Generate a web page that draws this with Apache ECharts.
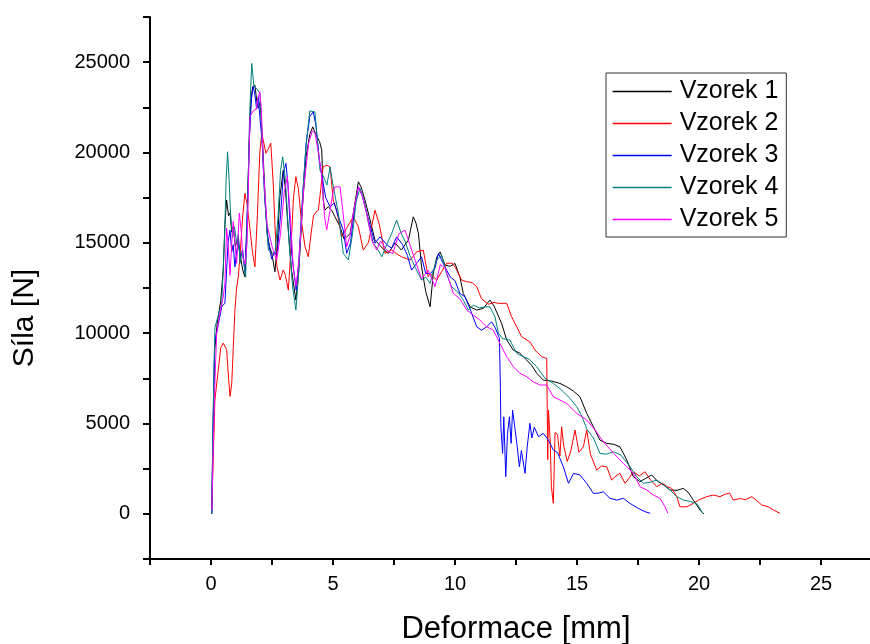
<!DOCTYPE html>
<html>
<head>
<meta charset="utf-8">
<script src="https://cdn.jsdelivr.net/npm/echarts@6/dist/echarts.min.js"></script>
<style>html,body{margin:0;padding:0;background:#fff;}#c{width:870px;height:644px;}</style>
</head>
<body>
<div id="c"></div>
<script>
var seriesNames = ['Vzorek 1', 'Vzorek 2', 'Vzorek 3', 'Vzorek 4', 'Vzorek 5'];
var xTickLabels = [0, 5, 10, 15, 20, 25];
var yTickLabels = [0, 5000, 10000, 15000, 20000, 25000];
var xTitle = 'Deformace [mm]';
var yTitle = 'Síla [N]';

var vzorek1 = [[0.03,0],[0.08,4000],[0.15,9000],[0.25,10500],[0.4,11800],[0.5,13500],[0.57,16000],[0.64,17370],[0.72,16500],[0.78,16650],[0.85,15600],[0.91,15900],[1.0,14800],[1.08,15200],[1.16,14600],[1.3,13500],[1.39,13120],[1.48,16000],[1.56,20500],[1.64,23000],[1.71,23640],[1.8,23730],[1.87,22900],[1.94,22450],[2.02,22800],[2.1,21000],[2.2,18000],[2.3,15500],[2.4,14800],[2.49,14430],[2.62,13400],[2.72,15000],[2.82,17500],[2.96,19020],[3.05,18000],[3.15,16000],[3.3,13500],[3.48,11830],[3.6,13500],[3.75,17000],[3.9,19800],[4.05,21000],[4.17,21420],[4.3,21000],[4.45,20600],[4.54,20130],[4.6,17370],[4.67,16810],[4.8,17000],[4.95,16800],[5.08,16440],[5.29,15890],[5.45,15200],[5.56,15330],[5.7,15500],[5.85,16800],[6.04,18380],[6.15,18100],[6.31,17370],[6.52,16260],[6.72,15150],[6.9,14900],[7.1,14600],[7.27,14420],[7.54,15000],[7.8,14600],[8.09,15150],[8.29,16440],[8.4,16100],[8.5,15530],[8.63,13670],[8.8,12300],[8.98,11460],[9.11,13310],[9.25,14200],[9.39,14500],[9.59,13770],[9.8,13700],[10.0,13860],[10.2,13120],[10.34,12200],[10.61,11460],[10.89,11280],[11.16,11370],[11.43,11830],[11.6,11500],[11.91,10540],[12.12,9620],[12.39,9060],[12.65,8900],[12.94,8510],[13.15,8200],[13.35,7780],[13.62,7400],[13.95,7350],[14.3,7220],[14.58,7030],[14.85,6800],[15.12,6480],[15.4,5560],[15.67,4820],[15.94,4080],[16.22,3900],[16.5,3850],[16.76,3710],[17.04,2980],[17.31,2050],[17.58,1780],[17.8,1950],[18.06,2150],[18.3,1800],[18.55,1600],[18.81,1320],[19.1,1300],[19.36,1410],[19.55,1200],[19.77,760],[20.04,210],[20.2,0]];

var vzorek2 = [[0.03,200],[0.1,3500],[0.16,6300],[0.3,8000],[0.4,9200],[0.5,9450],[0.64,9100],[0.72,7500],[0.78,6500],[0.85,7200],[0.91,9100],[0.98,11270],[1.05,12500],[1.12,13120],[1.2,14500],[1.3,16500],[1.39,17740],[1.47,17200],[1.57,16090],[1.7,14500],[1.8,13670],[1.9,16500],[2.0,20000],[2.08,21070],[2.17,20500],[2.25,19960],[2.35,20200],[2.45,20520],[2.55,18300],[2.62,16000],[2.7,13700],[2.83,12940],[2.96,13500],[3.05,13200],[3.17,12380],[3.27,14500],[3.38,17500],[3.48,18660],[3.58,18000],[3.7,16270],[3.85,14800],[3.99,14230],[4.1,15500],[4.2,16500],[4.3,16700],[4.4,16800],[4.5,18000],[4.59,19200],[4.75,19300],[4.88,19200],[5.01,17370],[5.15,16800],[5.36,15330],[5.55,15800],[5.83,16440],[6.04,15890],[6.24,14600],[6.45,15000],[6.72,16810],[6.9,16000],[7.13,14420],[7.4,14600],[7.6,14400],[7.81,14230],[8.16,14050],[8.43,14500],[8.7,14600],[8.9,13120],[8.98,13310],[9.25,12940],[9.45,13400],[9.66,13870],[9.9,13870],[10.07,13500],[10.27,12940],[10.48,12850],[10.7,12800],[10.89,12570],[11.09,11900],[11.37,11600],[11.6,11700],[11.78,11650],[12.12,11650],[12.32,10910],[12.53,10350],[12.73,9800],[13.07,9520],[13.28,9060],[13.55,8700],[13.76,8600],[13.8,3000],[13.83,5740],[13.9,4080],[13.95,1500],[14.03,580],[14.1,4500],[14.2,4400],[14.3,3200],[14.37,4820],[14.45,3800],[14.6,2900],[14.75,3500],[14.92,4640],[15.08,3410],[15.26,3710],[15.4,4640],[15.55,3300],[15.81,2420],[16.0,2650],[16.22,2600],[16.42,1870],[16.6,2100],[16.76,2240],[16.97,1690],[17.15,2000],[17.31,2330],[17.55,2100],[17.79,2330],[18.0,1900],[18.27,1500],[18.5,1700],[18.7,1500],[18.88,1410],[19.09,950],[19.22,390],[19.5,390],[19.77,580],[19.98,760],[20.31,950],[20.59,1040],[20.86,950],[21.1,1100],[21.25,1150],[21.41,760],[21.7,850],[21.9,780],[22.16,950],[22.35,750],[22.57,490],[22.84,390],[23.05,210],[23.32,30]];

var vzorek3 = [[0.03,0],[0.08,4500],[0.15,9500],[0.3,10500],[0.45,11500],[0.57,11650],[0.64,13500],[0.7,15000],[0.78,15700],[0.85,14500],[0.91,14900],[0.98,13670],[1.05,14500],[1.12,15280],[1.2,14200],[1.3,14600],[1.39,13400],[1.48,16500],[1.58,21000],[1.66,23000],[1.73,23640],[1.8,23200],[1.87,22400],[1.94,23100],[2.0,22000],[2.1,20500],[2.2,17500],[2.35,15000],[2.49,14100],[2.6,14500],[2.7,14300],[2.85,16500],[2.97,18900],[3.07,19400],[3.15,18300],[3.3,14500],[3.49,12380],[3.6,14000],[3.75,17500],[3.9,20500],[4.05,22000],[4.19,22250],[4.3,21500],[4.45,19500],[4.54,18750],[4.7,17500],[4.88,17000],[5.05,17200],[5.22,16440],[5.42,15700],[5.56,14420],[5.72,15000],[5.88,16800],[6.04,18100],[6.2,17600],[6.45,16300],[6.72,14980],[6.93,15330],[7.2,14900],[7.4,14700],[7.61,15330],[7.85,14900],[8.05,14300],[8.22,13490],[8.45,13900],[8.63,14230],[8.8,13300],[9.0,13310],[9.18,13600],[9.32,14420],[9.5,13900],[9.8,13120],[10.0,12900],[10.2,12200],[10.41,12010],[10.61,11370],[10.89,10350],[11.09,10170],[11.3,10350],[11.5,10630],[11.65,10300],[11.82,9710],[11.86,7000],[11.88,4820],[11.95,3350],[12.0,5370],[12.08,2050],[12.15,4400],[12.23,5370],[12.3,3900],[12.36,5740],[12.45,4800],[12.55,3710],[12.64,2610],[12.72,3500],[12.87,2240],[12.96,3710],[13.07,5010],[13.15,4200],[13.25,4800],[13.42,4270],[13.62,4450],[13.83,4080],[14.03,3530],[14.2,3400],[14.44,2610],[14.65,1690],[14.86,2240],[15.12,2150],[15.4,1690],[15.67,1130],[15.9,1150],[16.08,1220],[16.35,860],[16.63,760],[16.9,860],[17.17,580],[17.51,300],[17.79,120],[18.0,30]];

var vzorek4 = [[0.03,0],[0.08,5000],[0.16,10300],[0.3,11000],[0.44,11650],[0.55,15000],[0.62,18500],[0.68,20040],[0.74,18500],[0.8,16650],[0.88,15300],[0.96,15900],[1.05,15000],[1.12,15500],[1.19,13870],[1.28,14600],[1.42,13100],[1.5,17000],[1.58,22000],[1.67,24930],[1.75,23800],[1.8,23600],[1.9,23500],[2.0,23280],[2.1,20500],[2.2,17500],[2.35,14600],[2.49,14420],[2.63,14500],[2.75,16500],[2.85,19000],[2.94,19760],[3.05,18500],[3.2,15000],[3.35,12500],[3.48,11280],[3.6,13500],[3.75,17500],[3.9,20500],[4.05,22300],[4.13,22350],[4.26,22250],[4.4,20000],[4.47,19000],[4.6,18700],[4.75,18200],[4.88,19200],[5.0,18200],[5.22,16640],[5.42,14420],[5.63,14050],[5.8,15500],[5.95,17300],[6.11,18010],[6.3,17200],[6.45,16100],[6.65,14980],[6.85,14600],[7.0,14230],[7.2,14900],[7.4,15500],[7.61,16260],[7.8,15500],[7.95,15100],[8.15,14300],[8.36,13670],[8.63,12940],[8.8,13100],[8.98,12750],[9.1,13400],[9.25,14050],[9.45,14320],[9.65,13300],[9.86,12570],[10.1,12300],[10.34,11830],[10.55,11280],[10.75,11550],[11.0,11400],[11.2,11450],[11.43,11460],[11.5,11550],[11.64,10900],[11.78,9990],[11.95,9700],[12.25,9620],[12.53,8880],[12.8,8700],[13.05,8550],[13.35,8140],[13.69,7500],[14.03,7220],[14.37,6850],[14.71,6390],[14.99,5930],[15.2,5400],[15.4,4700],[15.67,4200],[15.94,3350],[16.2,3300],[16.5,3440],[16.8,3250],[17.17,2610],[17.45,2050],[17.72,1690],[18.0,1750],[18.27,1870],[18.55,1600],[18.81,1320],[19.09,950],[19.36,760],[19.65,680],[19.9,580],[20.04,300],[20.15,30]];

var vzorek5 = [[0.03,200],[0.1,4000],[0.16,7240],[0.23,9950],[0.35,11000],[0.5,12000],[0.57,12770],[0.64,15800],[0.7,15000],[0.78,13200],[0.85,15000],[0.91,16180],[0.98,15000],[1.05,13860],[1.1,15000],[1.16,16650],[1.25,15500],[1.3,14200],[1.4,13800],[1.48,15000],[1.53,18000],[1.6,22000],[1.73,22300],[1.85,22400],[1.93,23000],[2.0,23360],[2.06,22500],[2.15,19000],[2.3,16000],[2.5,14800],[2.69,14050],[2.85,15500],[3.0,17800],[3.13,18660],[3.25,16500],[3.38,13500],[3.49,12600],[3.6,14000],[3.8,18000],[4.0,20500],[4.15,21200],[4.26,21070],[4.4,20000],[4.54,18700],[4.65,16500],[4.74,15700],[4.88,16800],[5.0,17800],[5.08,18100],[5.29,18100],[5.4,16800],[5.56,14780],[5.7,15400],[5.85,16800],[6.04,18100],[6.2,17600],[6.4,16500],[6.6,15100],[6.79,14600],[6.95,15100],[7.2,14600],[7.45,14400],[7.7,15500],[7.95,15700],[8.15,14900],[8.36,14050],[8.63,13000],[8.9,13490],[9.18,12570],[9.4,13800],[9.6,13600],[9.93,12200],[10.2,11900],[10.48,11280],[10.75,11000],[11.02,10730],[11.3,10350],[11.57,10170],[11.84,9430],[12.12,8700],[12.39,8140],[12.66,7780],[12.94,7590],[13.2,7310],[13.48,7130],[13.76,7130],[14.03,6480],[14.3,6300],[14.58,6110],[14.99,5560],[15.4,5190],[15.74,4640],[16.08,3990],[16.5,3350],[16.9,2790],[17.31,2240],[17.58,1500],[17.86,1320],[18.13,1040],[18.4,860],[18.61,390],[18.72,30]];

var seriesData = [vzorek1, vzorek2, vzorek3, vzorek4, vzorek5];
var seriesColors = ['#000000', '#ff0000', '#0000ff', '#008080', '#ff00ff'];

var FONT = '"Liberation Sans", Arial, sans-serif';
var chart = echarts.init(document.getElementById('c'), null, {renderer: 'canvas'});

var series = seriesNames.map(function (n, i) {
  return {
    name: n, type: 'line', data: seriesData[i], symbol: 'none', showSymbol: false,
    color: seriesColors[i],
    lineStyle: {width: 1, color: seriesColors[i]}, itemStyle: {color: seriesColors[i]},
    animation: false, z: 2
  };
});

chart.setOption({
  backgroundColor: '#fff',
  animation: false,
  color: seriesColors,
  grid: {left: 150, top: 17, width: 732, height: 542, containLabel: false, outerBoundsMode: 'none'},
  xAxis: {
    type: 'value', min: -2.5, max: 27.5, interval: 2.5,
    axisLine: {show: true, onZero: false, lineStyle: {color: '#000', width: 2}},
    axisTick: {show: true, inside: false, length: 6, lineStyle: {color: '#000', width: 2}},
    splitLine: {show: false},
    axisLabel: {
      margin: 15, fontSize: 20, fontFamily: FONT, color: '#000',
      formatter: function (v) { return xTickLabels.indexOf(Math.round(v * 100) / 100) >= 0 ? String(v) : ''; }
    }
  },
  yAxis: {
    type: 'value', min: -2500, max: 27500, interval: 2500,
    axisLine: {show: true, onZero: false, lineStyle: {color: '#000', width: 2}},
    axisTick: {show: true, inside: false, length: 7, lineStyle: {color: '#000', width: 2}},
    splitLine: {show: false},
    axisLabel: {
      margin: 20, fontSize: 20, fontFamily: FONT, color: '#000',
      formatter: function (v) { return yTickLabels.indexOf(v) >= 0 ? String(v) : ''; }
    }
  },
  legend: {
    data: seriesNames, orient: 'vertical', left: 606, top: 73,
    padding: [6, 8, 5, 6], itemGap: 7, itemWidth: 59, itemHeight: 15,
    itemStyle: {opacity: 0},
    lineStyle: {width: 1.3, opacity: 1},
    borderColor: '#333', borderWidth: 1, backgroundColor: '#fff',
    textStyle: {fontSize: 25, lineHeight: 25, fontFamily: FONT, color: '#000', padding: [0, 0, 0, 3]},
    selectedMode: false
  },
  graphic: [
    {type: 'text', x: 516, y: 629, style: {text: xTitle, font: '31px ' + FONT, fill: '#000', textAlign: 'center', textVerticalAlign: 'middle'}},
    {type: 'text', x: 25, y: 318, rotation: Math.PI / 2, style: {text: yTitle, font: '30px ' + FONT, fill: '#000', textAlign: 'center', textVerticalAlign: 'middle'}}
  ],
  series: series
});
</script>
</body>
</html>
